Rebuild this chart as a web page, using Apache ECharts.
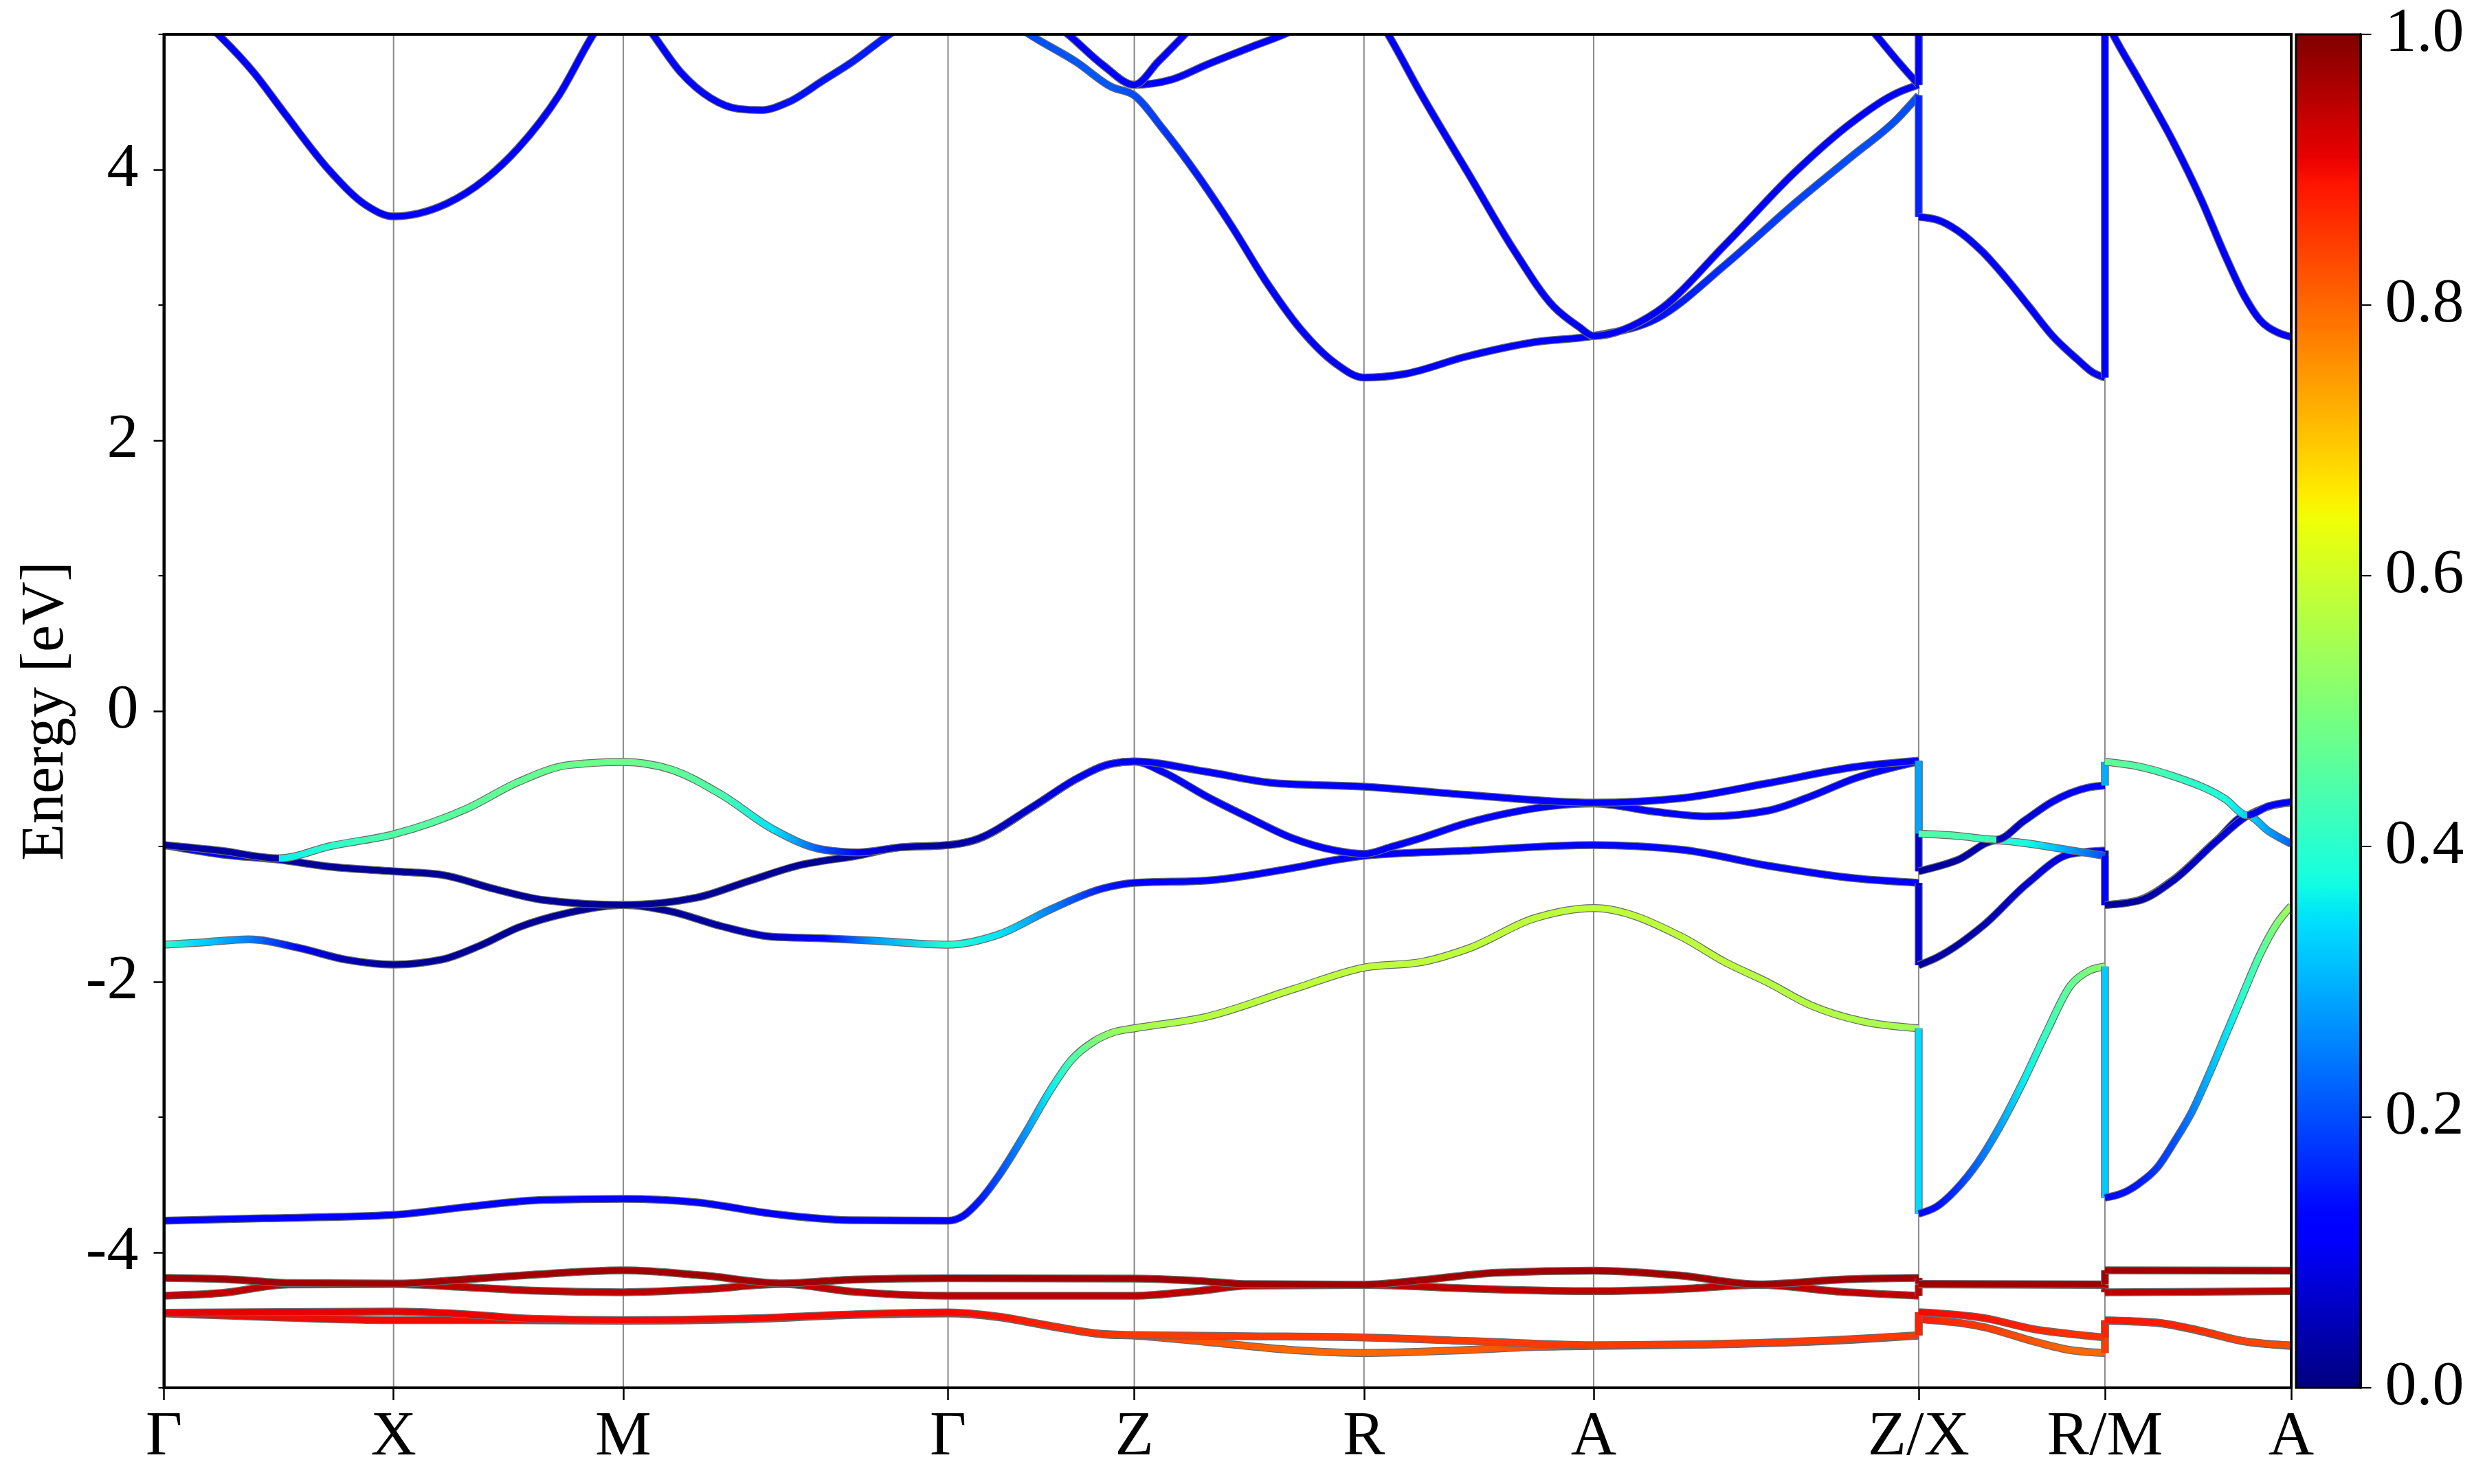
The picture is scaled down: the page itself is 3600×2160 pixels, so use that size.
<!DOCTYPE html>
<html>
<head>
<meta charset="utf-8">
<script src="https://cdn.jsdelivr.net/npm/echarts@6/dist/echarts.min.js"></script>
<style>
html,body{margin:0;padding:0;background:#fff;overflow:hidden}
#chart{width:3600px;height:2160px}
</style>
</head>
<body>
<div id="chart"></div>
<script>
// ---------------- data ----------------
// high-symmetry k positions and labels
const kTicks = [0, 1, 2, 3.414, 4.225, 5.225, 6.225, 7.64, 8.451, 9.262];
const kLabels = ['Γ', 'X', 'M', 'Γ', 'Z', 'R', 'A', 'Z/X', 'R/M', 'A'];
const energyTicks = [-4, -2, 0, 2, 4];
const energyMinorTicks = [-5, -3, -1, 1, 3, 5];
const weightTicks = [0, 0.2, 0.4, 0.6, 0.8, 1.0];

// band points: [k, energy, weight] or [k, energy, weightBefore, weightAfter]
// segment a: Γ-X-M-Γ-Z-R-A-Z ; segment b: X-R ; segment c: M-A
const r4_a = [[0,-4.45,.9],[0.5,-4.48,.9],[1,-4.5,.9],[1.5,-4.5,.9],[2,-4.505,.9],[2.5,-4.495,.9],[3,-4.462,.9],[3.414,-4.45,.9],[3.636,-4.478,.89],[3.862,-4.546,.87],[4.087,-4.605,.85],[4.225,-4.614,.84],[4.539,-4.661,.82],[4.915,-4.721,.8],[5.225,-4.743,.8],[5.667,-4.721,.81],[5.967,-4.698,.83],[6.225,-4.69,.84],[6.7,-4.682,.85],[7.2,-4.658,.85],[7.64,-4.614,.85]];
const r4_b = [[7.64,-4.492,.88],[7.923,-4.551,.85],[8.149,-4.661,.82],[8.3,-4.721,.8],[8.451,-4.743,.8]];
const r4_c = [[8.451,-4.505,.89],[8.675,-4.52,.88],[8.863,-4.58,.86],[9.05,-4.655,.84],[9.262,-4.69,.83]];

const r3_a = [[0,-4.445,.91],[0.5,-4.44,.91],[1,-4.437,.91],[1.3,-4.455,.91],[1.6,-4.49,.9],[2,-4.5,.9],[2.5,-4.49,.9],[3,-4.458,.9],[3.414,-4.443,.9],[3.636,-4.475,.89],[3.862,-4.543,.87],[4.087,-4.602,.86],[4.225,-4.611,.85],[4.727,-4.619,.85],[5.225,-4.628,.85],[5.7,-4.655,.85],[6.225,-4.685,.85],[6.7,-4.678,.85],[7.2,-4.652,.85],[7.64,-4.611,.85]];
const r3_b = [[7.64,-4.441,.9],[7.923,-4.484,.89],[8.149,-4.569,.87],[8.3,-4.602,.86],[8.451,-4.628,.86]];
const r3_c = [[8.451,-4.501,.89],[8.675,-4.518,.88],[8.863,-4.577,.86],[9.05,-4.653,.84],[9.262,-4.687,.83]];

const r2_a = [[0,-4.32,.945],[0.25,-4.3,.945],[0.546,-4.236,.945],[1,-4.234,.945],[1.3,-4.255,.945],[1.6,-4.282,.945],[2,-4.294,.945],[2.35,-4.272,.945],[2.694,-4.234,.945],[3.0,-4.29,.945],[3.414,-4.32,.945],[4.225,-4.32,.945],[4.5,-4.285,.945],[4.727,-4.245,.945],[5.225,-4.24,.945],[5.7,-4.268,.945],[6.225,-4.286,.945],[6.6,-4.27,.945],[6.945,-4.24,.945],[7.3,-4.29,.945],[7.64,-4.32,.945]];
const r2_b = [[7.64,-4.236,.945],[8.451,-4.24,.945]];
const r2_c = [[8.451,-4.294,.945],[9.262,-4.286,.945]];

const r1_a = [[0,-4.188,.97],[0.3,-4.2,.97],[0.546,-4.226,.97],[1,-4.23,.97],[1.3,-4.2,.97],[1.6,-4.165,.97],[2,-4.132,.97],[2.35,-4.17,.97],[2.694,-4.228,.97],[3.0,-4.2,.97],[3.414,-4.19,.97],[4.225,-4.193,.97],[4.5,-4.21,.97],[4.727,-4.234,.97],[5.225,-4.238,.97],[5.5,-4.2,.97],[5.8,-4.15,.97],[6.225,-4.134,.97],[6.6,-4.17,.97],[6.945,-4.236,.97],[7.3,-4.2,.97],[7.64,-4.188,.97]];
const r1_b = [[7.64,-4.232,.97],[8.451,-4.236,.97]];
const r1_c = [[8.451,-4.132,.97],[9.262,-4.134,.97]];

const v4_a = [[0,-3.765,.12],[0.435,-3.748,.12],[1,-3.722,.12],[1.321,-3.663,.12],[1.653,-3.612,.12],[2,-3.604,.12],[2.318,-3.629,.12],[2.65,-3.714,.12],[2.982,-3.761,.12],[3.414,-3.765,.12],[3.48,-3.73,.13],[3.55,-3.62,.15],[3.636,-3.43,.2],[3.75,-3.12,.27],[3.86,-2.8,.36],[3.95,-2.58,.44],[4.05,-2.44,.5],[4.14,-2.37,.53],[4.225,-2.344,.55],[4.539,-2.259,.57],[4.915,-2.056,.58],[5.225,-1.895,.58],[5.479,-1.853,.58],[5.686,-1.75,.58],[5.967,-1.531,.58],[6.225,-1.455,.58],[6.607,-1.667,.58],[6.795,-1.853,.58],[6.983,-2.005,.57],[7.171,-2.174,.57],[7.396,-2.293,.56],[7.64,-2.344,.55]];
const v4_b = [[7.64,-3.714,.13],[7.72,-3.66,.14],[7.8,-3.54,.17],[7.9,-3.33,.23],[8.0,-3.05,.29],[8.1,-2.72,.36],[8.2,-2.36,.42],[8.3,-2.03,.47],[8.38,-1.92,.5],[8.451,-1.887,.52]];
const v4_c = [[8.451,-3.596,.13],[8.53,-3.56,.14],[8.6,-3.49,.15],[8.68,-3.37,.18],[8.75,-3.19,.2],[8.83,-2.96,.25],[8.9,-2.7,.3],[8.98,-2.38,.35],[9.05,-2.1,.4],[9.126,-1.8,.45],[9.2,-1.57,.51],[9.262,-1.44,.55]];

const v3_a = [[0,-1.726,.4],[0.17,-1.709,.33],[0.369,-1.687,.25],[0.59,-1.751,.1],[0.79,-1.836,.04],[1,-1.873,.02],[1.21,-1.836,.02],[1.38,-1.73,.02],[1.543,-1.599,.02],[1.764,-1.489,.02],[2,-1.433,.02],[2.207,-1.48,.02],[2.428,-1.59,.03],[2.65,-1.667,.06],[2.871,-1.679,.12],[3.093,-1.697,.28],[3.414,-1.726,.4],[3.636,-1.65,.35],[3.862,-1.464,.25],[4.087,-1.311,.15],[4.225,-1.269,.12],[4.539,-1.252,.12],[4.915,-1.159,.12],[5.1,-1.1,.12],[5.225,-1.07,.12],[5.667,-1.032,.12],[6.225,-0.99,.13],[6.607,-1.024,.13],[6.983,-1.142,.13],[7.359,-1.235,.12],[7.64,-1.269,.12]];
const v3_b = [[7.64,-1.878,.02],[7.72,-1.82,.03],[7.923,-1.582,.04],[8.111,-1.277,.07],[8.299,-1.057,.09],[8.451,-1.03,.1]];
const v3_c = [[8.451,-1.433,.02],[8.6,-1.396,.03],[8.75,-1.244,.05],[8.937,-0.956,.07],[9.07,-0.77,.09,.34],[9.164,-0.888,.28],[9.262,-0.981,.22]];

const v2_a = [[0,-0.99,.1],[0.247,-1.058,.1],[0.502,-1.098,.1,.03],[0.723,-1.15,.02],[1,-1.184,.02],[1.21,-1.21,.02],[1.432,-1.311,.02],[1.653,-1.396,.02],[2,-1.433,.02],[2.318,-1.379,.02],[2.539,-1.26,.02],[2.76,-1.142,.02],[3.026,-1.066,.02],[3.203,-1.007,.02],[3.414,-0.99,.03],[3.523,-0.958,.04],[3.787,-0.705,.07],[3.975,-0.5,.1],[4.125,-0.39,.11],[4.225,-0.373,.12],[4.35,-0.45,.12],[4.539,-0.63,.12],[4.727,-0.79,.12],[4.915,-0.94,.12],[5.1,-1.03,.12],[5.225,-1.055,.12],[5.35,-1.0,.12],[5.479,-0.935,.12],[5.667,-0.83,.12],[5.855,-0.753,.12],[6.05,-0.7,.12],[6.225,-0.683,.12],[6.494,-0.744,.12],[6.72,-0.778,.12],[6.983,-0.736,.12],[7.17,-0.63,.12],[7.359,-0.499,.12],[7.64,-0.372,.12]];
const v2_b = [[7.64,-1.184,.02],[7.81,-1.1,.03],[7.979,-0.955,.04,.4],[8.1,-0.975,.38],[8.224,-1.007,.32],[8.451,-1.07,.2]];
const v2_c = [[8.451,-1.433,.02],[8.6,-1.4,.03],[8.75,-1.25,.05],[8.937,-0.96,.07],[9.07,-0.775,.09],[9.164,-0.705,.11],[9.262,-0.677,.12]];

const v1_a = [[0,-0.99,.03],[0.247,-1.032,.03],[0.502,-1.088,.03,.36],[0.723,-0.998,.4],[1,-0.91,.45],[1.321,-0.719,.46],[1.543,-0.524,.47],[1.764,-0.398,.48],[2,-0.375,.48],[2.207,-0.431,.47],[2.428,-0.618,.44],[2.65,-0.871,.35],[2.871,-1.024,.2],[3.026,-1.044,.1],[3.203,-1.007,.04],[3.414,-0.99,.03],[3.523,-0.956,.04],[3.787,-0.702,.07],[3.975,-0.499,.1],[4.125,-0.389,.11],[4.225,-0.372,.12],[4.539,-0.448,.12],[4.84,-0.533,.12],[5.225,-0.558,.12],[5.667,-0.618,.12],[6.225,-0.677,.12],[6.607,-0.643,.12],[6.983,-0.533,.12],[7.359,-0.414,.12],[7.64,-0.367,.12]];
const v1_b = [[7.64,-0.905,.45],[7.81,-0.922,.44],[7.979,-0.95,.42,.04],[8.1,-0.81,.07],[8.224,-0.668,.1],[8.374,-0.567,.12],[8.451,-0.55,.12]];
const v1_c = [[8.451,-0.375,.47],[8.6,-0.41,.45],[8.75,-0.482,.42],[8.976,-0.651,.38],[9.07,-0.77,.33,.09],[9.164,-0.702,.11],[9.262,-0.672,.12]];

const c1_a = [[0,5.25,.12],[0.12,5.18,.12],[0.236,5.0,.12],[0.39,4.72,.12],[0.524,4.42,.12],[0.723,3.99,.12],[0.878,3.74,.12],[1,3.655,.12],[1.232,3.75,.12],[1.4,3.93,.12],[1.543,4.16,.12],[1.72,4.55,.12],[1.87,5.0,.12],[2,5.3,.12],[2.129,5.0,.13],[2.25,4.72,.13],[2.38,4.53,.13],[2.5,4.45,.13],[2.6,4.44,.13],[2.72,4.5,.14],[2.871,4.66,.14],[3.0,4.8,.15],[3.159,5.0,.15],[3.414,5.25,.15],[3.6,5.2,.18],[3.768,5.0,.2],[3.975,4.793,.21],[4.125,4.612,.21],[4.225,4.549,.2],[4.35,4.3,.18],[4.5,3.96,.15],[4.65,3.58,.13],[4.8,3.17,.12],[4.95,2.82,.12],[5.1,2.57,.12],[5.225,2.464,.12],[5.4,2.49,.12],[5.667,2.618,.12],[5.967,2.726,.12],[6.225,2.772,.12],[6.5,2.9,.14],[6.8,3.3,.17],[7.1,3.75,.19],[7.35,4.1,.2],[7.547,4.376,.2],[7.64,4.549,.2]];
const c1_b = [[7.64,3.651,.12],[7.72,3.63,.12],[7.81,3.55,.12],[7.92,3.39,.12],[8.02,3.2,.12],[8.12,2.99,.12],[8.224,2.77,.12],[8.33,2.6,.12],[8.4,2.5,.12],[8.451,2.464,.12]];
const c1_c = [[8.451,5.12,.12],[8.486,5.0,.12],[8.6,4.66,.12],[8.75,4.2,.12],[8.87,3.78,.12],[8.976,3.36,.12],[9.06,3.06,.12],[9.126,2.89,.12],[9.2,2.8,.12],[9.262,2.765,.12]];

const c2_a = [[3.414,5.6,.12],[3.7,5.3,.12],[3.937,5.0,.12],[4.087,4.775,.12],[4.225,4.627,.12],[4.388,4.666,.12],[4.539,4.775,.12],[4.727,4.902,.12],[4.877,5.0,.12],[5.05,5.14,.12],[5.225,5.28,.12],[5.33,5.0,.12],[5.47,4.57,.12],[5.68,3.97,.12],[5.88,3.4,.12],[6.05,2.99,.12],[6.16,2.84,.12],[6.225,2.772,.12],[6.5,2.95,.12],[6.8,3.45,.12],[7.1,3.98,.12],[7.35,4.35,.12],[7.55,4.57,.12],[7.64,4.627,.12]];
const c2_b = [[7.64,6.0,.12],[8.451,6.0,.12]];
const c2_c = [[8.451,6.0,.12],[9.262,6.0,.12]];

const c3_a = [[3.414,5.6,.12],[3.7,5.3,.12],[3.937,5.0,.12],[4.087,4.775,.12],[4.225,4.627,.12],[4.33,4.8,.12],[4.445,5.0,.12],[4.7,5.5,.12],[5.225,6.0,.12],[6.225,6.0,.12],[7.2,5.5,.12],[7.452,5.0,.12],[7.55,4.8,.12],[7.64,4.627,.12]];
const c3_b = [[7.64,6.5,.12],[8.451,6.5,.12]];
const c3_c = [[8.451,6.5,.12],[9.262,6.5,.12]];

const bandList = [
  [r4_a, r4_b, r4_c], [r3_a, r3_b, r3_c], [r2_a, r2_b, r2_c], [r1_a, r1_b, r1_c],
  [v4_a, v4_b, v4_c], [v3_a, v3_b, v3_c], [v2_a, v2_b, v2_c], [v1_a, v1_b, v1_c],
  [c1_a, c1_b, c1_c], [c2_a, c2_b, c2_c], [c3_a, c3_b, c3_c]
];

// ---------------- colormap (jet) ----------------
function interp(v, xs, ys) {
  for (let i = 1; i < xs.length; i++) {
    if (v <= xs[i]) { const t = (v - xs[i-1]) / (xs[i] - xs[i-1]); return ys[i-1] + t * (ys[i] - ys[i-1]); }
  }
  return ys[ys.length - 1];
}
function jet(v) {
  v = Math.max(0, Math.min(1, v));
  const r = interp(v, [0, 0.35, 0.66, 0.89, 1], [0, 0, 1, 1, 0.5]);
  const g = interp(v, [0, 0.125, 0.375, 0.64, 0.91, 1], [0, 0, 1, 1, 0, 0]);
  const b = interp(v, [0, 0.11, 0.34, 0.65, 1], [0.5, 1, 1, 0, 0]);
  return 'rgb(' + Math.round(r*255) + ',' + Math.round(g*255) + ',' + Math.round(b*255) + ')';
}

// monotone cubic (in x) tangents, same scheme as d3.curveMonotoneX
function monotoneTangents(xs, ys) {
  const n = xs.length, t = new Array(n).fill(0);
  if (n === 2) { const s = (ys[1] - ys[0]) / (xs[1] - xs[0]); t[0] = s; t[1] = s; return t; }
  for (let i = 1; i < n - 1; i++) {
    const h0 = xs[i] - xs[i-1], h1 = xs[i+1] - xs[i];
    const s0 = (ys[i] - ys[i-1]) / h0, s1 = (ys[i+1] - ys[i]) / h1;
    const p = (s0 * h1 + s1 * h0) / (h0 + h1);
    t[i] = ((Math.sign(s0) + Math.sign(s1)) * Math.min(Math.abs(s0), Math.abs(s1), 0.5 * Math.abs(p))) || 0;
  }
  t[0] = (3 * (ys[1] - ys[0]) / (xs[1] - xs[0]) - t[1]) / 2;
  t[n-1] = (3 * (ys[n-1] - ys[n-2]) / (xs[n-1] - xs[n-2]) - t[n-2]) / 2;
  return t;
}
function curvePath(px) {
  const xs = px.map(function (p) { return p[0]; }), ys = px.map(function (p) { return p[1]; });
  const t = monotoneTangents(xs, ys);
  let d = 'M' + xs[0].toFixed(2) + ' ' + ys[0].toFixed(2);
  for (let i = 0; i < xs.length - 1; i++) {
    const dx = (xs[i+1] - xs[i]) / 3;
    d += ' C' + (xs[i] + dx).toFixed(2) + ' ' + (ys[i] + dx * t[i]).toFixed(2) + ' ' +
         (xs[i+1] - dx).toFixed(2) + ' ' + (ys[i+1] - dx * t[i+1]).toFixed(2) + ' ' +
         xs[i+1].toFixed(2) + ' ' + ys[i+1].toFixed(2);
  }
  return d;
}

// ---------------- build chart ----------------
const FONT = "'Liberation Serif','Times New Roman',Times,serif";
const LW = 9, OUTLINE_W = 11.5, OUTLINE_C = '#6a6a6a';
const series = [];

// vertical guide lines at high-symmetry points
kTicks.slice(1, -1).forEach(function (k) {
  series.push({ type: 'line', xAxisIndex: 0, yAxisIndex: 0, data: [[k, -5], [k, 5]], symbol: 'none', silent: true,
    lineStyle: { color: '#8a8a8a', width: 2 }, z: 1 });
});

function lastW(p) { return p.length > 3 ? p[3] : p[2]; }

function renderBands(params, api) {
  if (params.dataIndex !== 0) return null;
  const children = [];
  bandList.forEach(function (segs) {
    segs.forEach(function (seg, si) {
      const px = seg.map(function (p) { return api.coord([p[0], p[1]]); });
      const x0 = px[0][0], x1 = px[px.length - 1][0];
      const stops = [];
      seg.forEach(function (p, i) {
        const o = (px[i][0] - x0) / (x1 - x0);
        stops.push({ offset: o, color: jet(p[2]) });
        if (p.length > 3) stops.push({ offset: o, color: jet(p[3]) });
      });
      const d = curvePath(px);
      children.push({ type: 'path', shape: { pathData: d },
        style: { fill: 'none', stroke: OUTLINE_C, lineWidth: OUTLINE_W, lineCap: 'butt', lineJoin: 'round' } });
      children.push({ type: 'path', shape: { pathData: d },
        style: { fill: 'none', stroke: new echarts.graphic.LinearGradient(x0, 0, x1, 0, stops, true), lineWidth: LW, lineCap: 'butt', lineJoin: 'round' } });
      if (si < segs.length - 1) {
        const a = seg[seg.length - 1], b = segs[si + 1][0];
        if (Math.abs(a[1] - b[1]) > 1e-6) {
          const pa = api.coord([a[0], a[1]]), pb = api.coord([b[0], b[1]]);
          const jd = 'M' + pa[0].toFixed(2) + ' ' + pa[1].toFixed(2) + ' L' + pb[0].toFixed(2) + ' ' + pb[1].toFixed(2);
          const col = jet((lastW(a) + b[2]) / 2);
          children.push({ type: 'path', shape: { pathData: jd },
            style: { fill: 'none', stroke: OUTLINE_C, lineWidth: OUTLINE_W, lineCap: 'butt' } });
          children.push({ type: 'path', shape: { pathData: jd },
            style: { fill: 'none', stroke: col, lineWidth: LW, lineCap: 'butt' } });
        }
      }
    });
  });
  return { type: 'group', children: children };
}

series.push({ type: 'custom', coordinateSystem: 'cartesian2d', xAxisIndex: 0, yAxisIndex: 0, clip: true, silent: true, z: 2,
  data: [[0, 0]], renderItem: renderBands });

// colorbar
const cbStops = [];
for (let i = 0; i <= 100; i++) cbStops.push({ offset: i / 100, color: jet(i / 100) });
series.push({ type: 'bar', xAxisIndex: 1, yAxisIndex: 2, data: [1], barWidth: '100%', silent: true,
  itemStyle: { color: new echarts.graphic.LinearGradient(0, 1, 0, 0, cbStops) } });

function kLabel(v) {
  for (let i = 0; i < kTicks.length; i++) if (Math.abs(kTicks[i] - v) < 1e-6) return kLabels[i];
  return '';
}

const option = {
  animation: false,
  backgroundColor: '#ffffff',
  grid: [
    { left: 238.5, right: 266, top: 50, bottom: 140, show: true, borderColor: '#000', borderWidth: 4, backgroundColor: 'transparent', z: 10 },
    { left: 3341, right: 165.5, top: 50, bottom: 140, show: true, borderColor: '#000', borderWidth: 3, backgroundColor: 'transparent', z: 10 }
  ],
  xAxis: [
    { gridIndex: 0, type: 'value', min: 0, max: kTicks[kTicks.length - 1], z: 10,
      axisLine: { show: true, onZero: false, lineStyle: { color: '#000', width: 4 } },
      axisTick: { show: true, customValues: kTicks, length: 18, lineStyle: { color: '#000', width: 2.5 } },
      axisLabel: { show: true, customValues: kTicks, formatter: kLabel, margin: 27, fontSize: 92, fontFamily: FONT, color: '#000' },
      splitLine: { show: false } },
    { gridIndex: 1, type: 'category', data: ['w'], show: false }
  ],
  yAxis: [
    { gridIndex: 0, type: 'value', min: -5, max: 5, interval: 1, z: 10,
      axisLine: { show: true, onZero: false, lineStyle: { color: '#000', width: 4 } },
      axisTick: { show: true, customValues: energyTicks, length: 15, lineStyle: { color: '#000', width: 2.5 } },
      axisLabel: { show: true, customValues: energyTicks, margin: 37, fontSize: 92, fontFamily: FONT, color: '#000' },
      splitLine: { show: false },
      name: 'Energy [eV]', nameLocation: 'middle', nameGap: 127,
      nameTextStyle: { fontSize: 88, fontFamily: FONT, color: '#000' } },
    { gridIndex: 0, type: 'value', min: -5, max: 5, interval: 1, position: 'left', z: 10,
      axisLine: { show: false, onZero: false },
      axisTick: { show: true, customValues: energyMinorTicks, length: 8, lineStyle: { color: '#000', width: 2 } },
      axisLabel: { show: false }, splitLine: { show: false } },
    { gridIndex: 1, type: 'value', min: 0, max: 1, interval: 0.2, position: 'right', z: 10,
      axisLine: { show: true, onZero: false, lineStyle: { color: '#000', width: 4 } },
      axisTick: { show: true, customValues: weightTicks, length: 16, lineStyle: { color: '#000', width: 2 } },
      axisLabel: { show: true, customValues: weightTicks, formatter: function (v) { return v.toFixed(1); }, margin: 36, fontSize: 92, fontFamily: FONT, color: '#000' },
      splitLine: { show: false } }
  ],
  series: series
};

const chart = echarts.init(document.getElementById('chart'), null, { renderer: 'canvas', width: 3600, height: 2160 });
chart.setOption(option);
</script>
</body>
</html>
